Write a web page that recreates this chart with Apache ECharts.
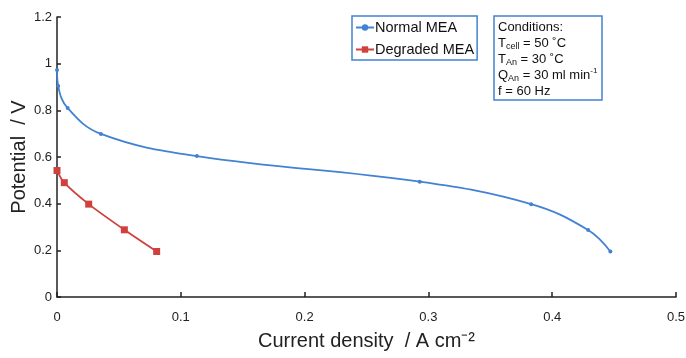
<!DOCTYPE html>
<html>
<head>
<meta charset="utf-8">
<script src="https://cdn.jsdelivr.net/npm/echarts@6/dist/echarts.min.js"></script>
<style>
  html, body { margin: 0; padding: 0; background: #fff; }
  #chart { width: 686px; height: 358px; }
</style>
</head>
<body>
<div id="chart"></div>
<script>
// data (current density A/cm2, potential V)
const normalX = [0, 0.001, 0.0086, 0.0355, 0.113, 0.293, 0.383, 0.429, 0.447];
const normalY = [0.973, 0.904, 0.81, 0.699, 0.604, 0.494, 0.398, 0.287, 0.195];
const degradedX = [0, 0.0059, 0.0256, 0.0544, 0.0805];
const degradedY = [0.542, 0.49, 0.398, 0.288, 0.195];
const xTicks = [0, 0.1, 0.2, 0.3, 0.4, 0.5];
const yTicks = [0, 0.2, 0.4, 0.6, 0.8, 1, 1.2];

const blue = '#4282d2';
const red = '#d0413d';
const font = 'Liberation Sans, Arial, sans-serif';

const chart = echarts.init(document.getElementById('chart'));

function pairs(xs, ys) {
  return xs.map((x, i) => [x, ys[i]]);
}

const option = {
  animation: false,
  textStyle: { fontFamily: font },
  grid: { left: 57, right: 10, top: 17, bottom: 61, containLabel: false, outerBoundsMode: 'none' },
  legend: {
    left: 352, top: 16,
    orient: 'vertical',
    borderColor: blue, borderWidth: 1.5,
    padding: [4, 3, 3, 3],
    itemGap: 7,
    itemWidth: 18, itemHeight: 8,
    textStyle: { fontSize: 14.5, color: '#111', fontFamily: font, padding: [0, 0, 0, -4] },
    data: ['Normal MEA', 'Degraded MEA']
  },
  title: {
    left: 494, top: 14,
    borderColor: blue, borderWidth: 1.5,
    padding: [5, 5, 3, 4],
    text: '{n|Conditions:}\n{n|T}{s|cell}{n| = 50 ˚C}\n{n|T}{s|An}{n| = 30 ˚C}\n{n|Q}{s|An}{n| = 30 ml min}{p|-1}\n{n|f = 60 Hz}',
    textStyle: {
      fontFamily: font,
      fontWeight: 'normal',
      rich: {
        n: { fontSize: 13, color: '#111', lineHeight: 16, fontWeight: 'normal', fontFamily: font },
        s: { fontSize: 9, color: '#111', lineHeight: 16, fontWeight: 'normal', verticalAlign: 'bottom', padding: [5, 0, 0, 0], fontFamily: font },
        p: { fontSize: 8, color: '#111', lineHeight: 16, fontWeight: 'normal', verticalAlign: 'top', padding: [0, 0, 6, 0], fontFamily: font }
      }
    }
  },
  xAxis: {
    type: 'value',
    min: 0, max: 0.5, interval: 0.1,
    name: 'Current density  / A cm⁻²',
    nameLocation: 'middle', nameGap: 34, nameMoveOverlap: false,
    nameTextStyle: { fontSize: 20, color: '#222', fontFamily: font },
    axisLine: { lineStyle: { color: '#222', width: 1.5 } },
    axisTick: { inside: true, length: 5, lineStyle: { color: '#222', width: 1.5 } },
    axisLabel: { fontSize: 13, color: '#222', margin: 14, formatter: v => String(+v.toFixed(1)) },
    splitLine: { show: false }
  },
  yAxis: {
    type: 'value',
    min: 0, max: 1.2, interval: 0.2,
    name: 'Potential  / V',
    nameLocation: 'middle', nameGap: 28, nameMoveOverlap: false,
    nameTextStyle: { fontSize: 20, color: '#222', fontFamily: font },
    axisLine: { show: true, lineStyle: { color: '#222', width: 1.5 } },
    axisTick: { show: true, inside: true, length: 4, lineStyle: { color: '#222', width: 1.5 } },
    axisLabel: { fontSize: 13, color: '#222', margin: 5, formatter: v => String(+v.toFixed(1)) },
    splitLine: { show: false }
  },
  series: [
    {
      name: 'Normal MEA',
      type: 'line',
      smooth: 0.4,
      data: pairs(normalX, normalY),
      symbol: 'circle', symbolSize: 4,
      lineStyle: { color: blue, width: 1.8 },
      itemStyle: { color: blue }
    },
    {
      name: 'Degraded MEA',
      type: 'line',
      smooth: 0.3,
      data: pairs(degradedX, degradedY),
      symbol: 'rect', symbolSize: 7,
      lineStyle: { color: red, width: 1.8 },
      itemStyle: { color: red }
    }
  ]
};

chart.setOption(option);
</script>
</body>
</html>
